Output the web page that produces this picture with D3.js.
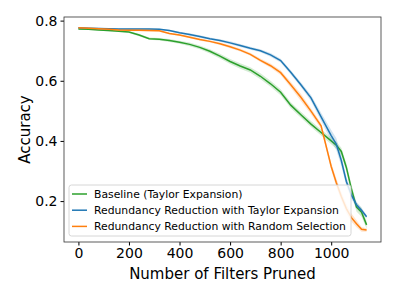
<!DOCTYPE html>
<html>
<head>
<meta charset="utf-8">
<script src="https://cdn.jsdelivr.net/npm/d3@7"></script>
<style>
  body { margin: 0; background: #fff; }
  text { font-family: "DejaVu Sans", sans-serif; }
</style>
</head>
<body>
<div id="chart"></div>
<script>
var filters = [0, 40, 80, 120, 160, 200, 240, 280, 320, 360, 400, 440, 480, 520, 560, 600, 640,
  680, 720, 760, 800, 840, 880, 920, 960, 1000, 1020, 1040, 1060, 1080, 1100, 1120, 1140];

var baseline = [0.772, 0.771, 0.769, 0.767, 0.765, 0.762, 0.752, 0.740, 0.738, 0.734, 0.728, 0.721,
  0.711, 0.698, 0.682, 0.664, 0.649, 0.636, 0.615, 0.590, 0.562, 0.519, 0.487, 0.456, 0.428, 0.400,
  0.386, 0.365, 0.312, 0.240, 0.180, 0.163, 0.121];
var baselineStd = [0.002, 0.002, 0.002, 0.003, 0.003, 0.003, 0.004, 0.004, 0.004, 0.005, 0.005, 0.006,
  0.006, 0.007, 0.008, 0.008, 0.009, 0.009, 0.010, 0.010, 0.010, 0.010, 0.010, 0.010, 0.010, 0.011,
  0.012, 0.012, 0.014, 0.015, 0.015, 0.015, 0.012];

var taylor = [0.776, 0.775, 0.774, 0.773, 0.772, 0.772, 0.772, 0.772, 0.771, 0.767, 0.760, 0.754,
  0.747, 0.740, 0.734, 0.726, 0.717, 0.708, 0.700, 0.686, 0.667, 0.628, 0.587, 0.543, 0.480, 0.418,
  0.390, 0.335, 0.265, 0.220, 0.188, 0.170, 0.148];
var taylorStd = [0.002, 0.002, 0.002, 0.002, 0.002, 0.003, 0.003, 0.003, 0.003, 0.003, 0.003, 0.004,
  0.004, 0.004, 0.004, 0.005, 0.005, 0.005, 0.005, 0.006, 0.006, 0.007, 0.008, 0.010, 0.014, 0.018,
  0.020, 0.018, 0.015, 0.012, 0.010, 0.008, 0.006];

var randomSel = [0.776, 0.775, 0.773, 0.771, 0.769, 0.768, 0.768, 0.767, 0.766, 0.757, 0.752, 0.745,
  0.737, 0.731, 0.723, 0.713, 0.702, 0.688, 0.668, 0.650, 0.627, 0.587, 0.545, 0.499, 0.450, 0.315,
  0.262, 0.215, 0.175, 0.145, 0.125, 0.106, 0.104];
var randomStd = [0.002, 0.002, 0.002, 0.002, 0.002, 0.003, 0.003, 0.003, 0.003, 0.003, 0.003, 0.004,
  0.004, 0.004, 0.004, 0.005, 0.005, 0.005, 0.006, 0.007, 0.008, 0.010, 0.012, 0.010, 0.010, 0.012,
  0.014, 0.015, 0.015, 0.014, 0.012, 0.008, 0.006];

var labels = ["Baseline (Taylor Expansion)", "Redundancy Reduction with Taylor Expansion",
  "Redundancy Reduction with Random Selection"];
var colors = ["#2ca02c", "#1f77b4", "#ff7f0e"];
var xTicks = [0, 200, 400, 600, 800, 1000];
var yTicks = [0.2, 0.4, 0.6, 0.8];

var series = [
  {name: labels[0], color: colors[0], mean: baseline, std: baselineStd},
  {name: labels[1], color: colors[1], mean: taylor, std: taylorStd},
  {name: labels[2], color: colors[2], mean: randomSel, std: randomStd}
];

var W = 399, H = 298,
    margin = {top: 17, right: 18, bottom: 56, left: 64},
    width = W - margin.left - margin.right,
    height = H - margin.top - margin.bottom;

var svg = d3.select("#chart").append("svg").attr("width", W).attr("height", H),
    g = svg.append("g").attr("transform", "translate(" + margin.left + "," + margin.top + ")");

// matplotlib style 5% margins
var xMin = d3.min(filters), xMax = d3.max(filters),
    lo = d3.min(series, function(s) { return d3.min(s.mean, function(m, i) { return m - s.std[i]; }); }),
    hi = d3.max(series, function(s) { return d3.max(s.mean, function(m, i) { return m + s.std[i]; }); });
var x = d3.scaleLinear().domain([xMin - 0.05 * (xMax - xMin), xMax + 0.05 * (xMax - xMin)]).range([0, width]),
    y = d3.scaleLinear().domain([lo - 0.05 * (hi - lo), hi + 0.05 * (hi - lo)]).range([height, 0]);

var area = d3.area()
    .x(function(d) { return x(d.f); })
    .y0(function(d) { return y(d.m - d.s); })
    .y1(function(d) { return y(d.m + d.s); });
var line = d3.line()
    .x(function(d) { return x(d.f); })
    .y(function(d) { return y(d.m); });

series.forEach(function(s) {
  var pts = filters.map(function(f, i) { return {f: f, m: s.mean[i], s: s.std[i]}; });
  g.append("path").attr("d", area(pts)).attr("fill", s.color).attr("fill-opacity", 0.2);
  g.append("path").attr("d", line(pts)).attr("fill", "none")
      .attr("stroke", s.color).attr("stroke-width", 1.5);
});

var xAxis = g.append("g")
    .attr("transform", "translate(0," + height + ")")
    .call(d3.axisBottom(x).tickValues(xTicks).tickSize(3.5).tickPadding(3).tickFormat(d3.format("d")));
var yAxis = g.append("g")
    .call(d3.axisLeft(y).tickValues(yTicks).tickSize(3.5).tickPadding(3).tickFormat(d3.format(".1f")));
[xAxis, yAxis].forEach(function(a) {
  a.select(".domain").remove();
  a.selectAll("text").style("font-size", "14px").attr("fill", "#000");
  a.selectAll("line").attr("stroke", "#000");
});

g.append("rect").attr("width", width).attr("height", height)
    .attr("fill", "none").attr("stroke", "#333").attr("stroke-width", 0.8);

g.append("text")
    .attr("x", width / 2).attr("y", height + 37)
    .attr("text-anchor", "middle").style("font-size", "15px")
    .text("Number of Filters Pruned");
g.append("text")
    .attr("transform", "rotate(-90)")
    .attr("x", -height / 2).attr("y", -34)
    .attr("text-anchor", "middle").style("font-size", "15px")
    .text("Accuracy");

// legend
var legend = g.append("g").attr("transform", "translate(5," + (height - 57) + ")");
legend.append("rect")
    .attr("width", 282).attr("height", 51).attr("rx", 2.5)
    .attr("fill", "#fff").attr("fill-opacity", 0.8)
    .attr("stroke", "#ccc").attr("stroke-width", 0.8);
series.forEach(function(s, i) {
  var row = legend.append("g").attr("transform", "translate(0," + (9 + i * 16.2) + ")");
  row.append("line").attr("x1", 3).attr("x2", 18)
      .attr("stroke", s.color).attr("stroke-width", 1.5);
  row.append("text").attr("x", 25).attr("dy", "0.35em")
      .style("font-size", "10.8px").text(s.name);
});
</script>
</body>
</html>
